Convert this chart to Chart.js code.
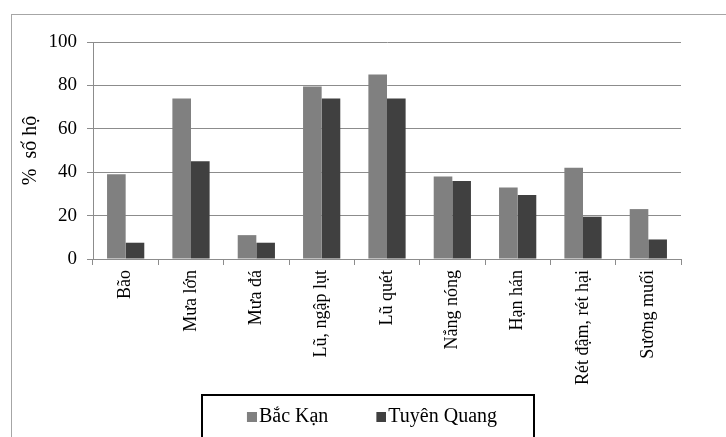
<!DOCTYPE html>
<html>
<head>
<meta charset="utf-8">
<script src="https://cdn.jsdelivr.net/npm/chart.js@4"></script>
<style>
  html, body { margin: 0; padding: 0; background: #fff; }
  #wrap { width: 726px; height: 437px; position: relative; }
</style>
</head>
<body>
<div id="wrap"><canvas id="chart" width="726" height="437"></canvas></div>
<script>
/* ==============================
   Data
============================== */
const categories = ['Bão', 'Mưa lớn', 'Mưa đá', 'Lũ, ngập lụt', 'Lũ quét', 'Nắng nóng', 'Hạn hán', 'Rét đậm, rét hại', 'Sương muối'];
const bacKan = [39, 74, 11, 79.5, 85, 38, 33, 42, 23];
const tuyenQuang = [7.5, 45, 7.5, 74, 74, 36, 29.5, 19.5, 9];
const yTicks = [0, 20, 40, 60, 80, 100];
const colors = ['#808080', '#404040'];

const FONT = "'Liberation Serif', 'DejaVu Serif', serif";
const GRID = '#8c8c8c';

/* ==============================
   Helpers
============================== */
// o vuong sat chu trong legend (Chart.js mac dinh de khoang cach rong)
function legendMarker(color) {
    const c = document.createElement('canvas');
    c.width = 26; c.height = 10;
    const g = c.getContext('2d');
    g.fillStyle = color;
    g.fillRect(16, 0, 10, 10);
    return c;
}

/* ==============================
   Plugin: khung ngoai + khung legend
============================== */
const frames = {
    id: 'frames',
    afterLayout(chart) {
        const lg = chart.legend;
        lg.left += 22; lg.right += 22;
        if (lg.adjustHitBoxes) lg.adjustHitBoxes();
    },
    beforeDraw(chart) {
        const ctx = chart.ctx;
        ctx.save();
        ctx.fillStyle = '#fff';
        ctx.fillRect(0, 0, chart.width, chart.height);
        ctx.strokeStyle = '#a6a6a6';
        ctx.lineWidth = 1;
        ctx.strokeRect(11.5, 14.5, chart.width + 20, chart.height + 20);
        ctx.restore();
    },
    afterDraw(chart) {
        const boxes = chart.legend.legendHitBoxes;
        if (!boxes || !boxes.length) return;
        const first = boxes[0], last = boxes[boxes.length - 1];
        const ctx = chart.ctx;
        ctx.save();
        ctx.strokeStyle = '#000';
        ctx.lineWidth = 2;
        const left = Math.round(first.left - 37);
        const right = Math.round(last.left + last.width + 37);
        ctx.strokeRect(left, 395, right - left, 60);
        ctx.restore();
    }
};

/* ==============================
   Render bar chart
============================== */
const config = {
    type: 'bar',
    data: {
        labels: categories,
        datasets: [
            { label: 'Bắc Kạn', data: bacKan, backgroundColor: colors[0] },
            { label: 'Tuyên Quang', data: tuyenQuang, backgroundColor: colors[1] }
        ]
    },
    options: {
        responsive: false,
        animation: false,
        layout: { padding: { left: 11, top: 42, right: 45, bottom: 0 } },
        datasets: { bar: { categoryPercentage: 0.57, barPercentage: 1.0 } },
        scales: {
            x: {
                offset: true,
                grid: { offset: true, drawOnChartArea: false, color: GRID, tickLength: 6, tickColor: GRID },
                border: { color: GRID },
                ticks: {
                    color: '#000', padding: 5, minRotation: 90, maxRotation: 90, autoSkip: false,
                    font: { family: FONT, size: 18 }
                },
                afterFit(scale) { scale.height = 138; }
            },
            y: {
                min: 0, max: 100,
                afterBuildTicks(scale) { scale.ticks = yTicks.map(v => ({ value: v })); },
                grid: { color: GRID, tickLength: 6, tickColor: GRID },
                border: { color: GRID },
                ticks: { color: '#000', padding: 10, font: { family: FONT, size: 19 } },
                title: {
                    display: true, text: '%  số hộ', color: '#000',
                    padding: { top: 8, bottom: 0 },
                    font: { family: FONT, size: 20 }
                },
                afterFit(scale) { scale.width = 82; }
            }
        },
        plugins: {
            legend: {
                position: 'bottom',
                labels: {
                    color: '#000', boxWidth: 10, boxHeight: 10, padding: 10,
                    usePointStyle: true, pointStyleWidth: 10,
                    font: { family: FONT, size: 20 },
                    generateLabels(chart) {
                        const n = chart.data.datasets.length;
                        return chart.data.datasets.map((ds, i) => ({
                            // khoang trong sau nhan dau de gian cach 2 muc
                            text: ds.label + (i < n - 1 ? '      ' : ''),
                            fillStyle: colors[i],
                            strokeStyle: colors[i],
                            lineWidth: 0,
                            pointStyle: legendMarker(colors[i]),
                            hidden: false,
                            datasetIndex: i
                        }));
                    }
                }
            },
            tooltip: { enabled: false }
        }
    },
    plugins: [frames]
};

new Chart(document.getElementById('chart'), config);
</script>
</body>
</html>
